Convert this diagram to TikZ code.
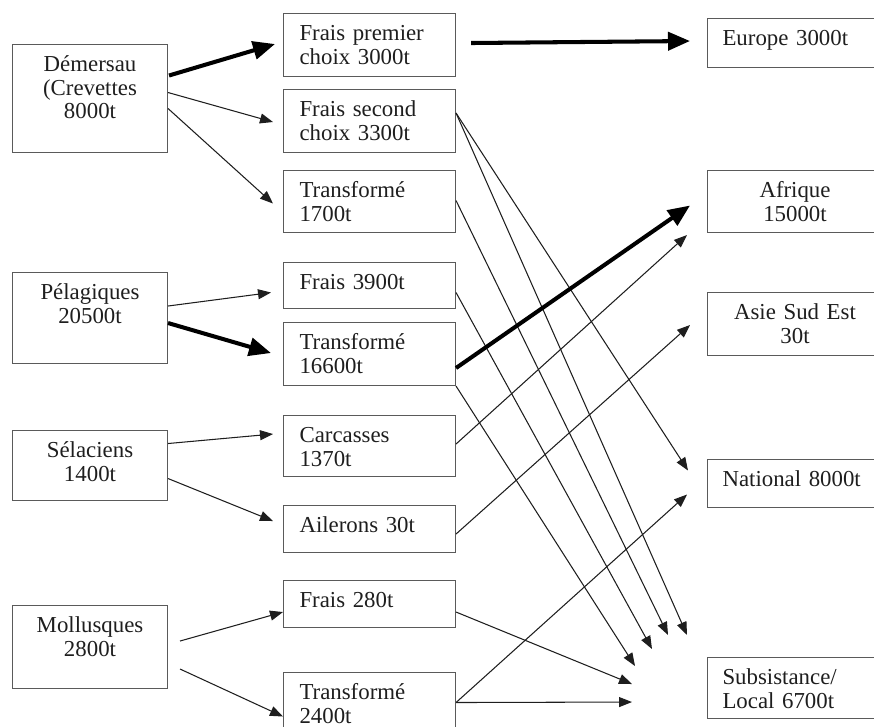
\documentclass[tikz,border=0pt]{standalone}
\usepackage{fontspec}
\setmainfont{Liberation Serif}
\definecolor{scanink}{RGB}{30, 30, 30}
\definecolor{scanline}{RGB}{90, 90, 90}
\usetikzlibrary{arrows.meta, calc}
\newcommand{\flowfont}{\fontsize{13}{13.4}\selectfont}
\tikzset{
    srcbox/.style={rectangle, draw=scanline, line width=0.6pt, anchor=north west,
                   inner xsep=0pt, inner ysep=0pt, text width=3.1cm, align=center,
                   text height=0.54cm, font=\flowfont, text=scanink},
    prodbox/.style={srcbox, inner xsep=0.32cm, text width=2.8cm, align=left},
    destbox/.style={srcbox, inner xsep=0.3cm, text width=2.9cm, align=left},
    flow/.style={-{Triangle[length=2.6mm, width=2mm]}, line width=0.6pt, scanink},
    bigflow/.style={-{Triangle[length=4.4mm, width=3.6mm]}, line width=2.3pt, black},
}
\begin{document}
\begin{tikzpicture}[x=0.02cm, y=-0.02cm]
    \useasboundingbox (0,0) rectangle (874,726);
    % Catches
    \node[srcbox, text depth=1.62cm] (dem) at (12,44) {Démersau\\(Crevettes\\8000t};
    \node[srcbox, text depth=1.28cm] (pel) at (12,272) {Pélagiques\\20500t};
    \node[srcbox, text depth=0.86cm] (sel) at (12,430) {Sélaciens\\1400t};
    \node[srcbox, text depth=1.12cm] (mol) at (12,605) {Mollusques\\2800t};

    % Products
    \node[prodbox, text depth=0.72cm] (fpc) at (283,13) {Frais premier\\choix 3000t};
    \node[prodbox, text depth=0.72cm] (fsc) at (283,89) {Frais second\\choix 3300t};
    \node[prodbox, text depth=0.70cm] (t17) at (283,170) {Transformé\\1700t};
    \node[prodbox, text depth=0.38cm] (f39) at (283,262) {Frais 3900t};
    \node[prodbox, text depth=0.72cm] (t166) at (283,322) {Transformé\\16600t};
    \node[prodbox, text depth=0.68cm] (car) at (283,415) {Carcasses\\1370t};
    \node[prodbox, text depth=0.40cm] (ail) at (283,505) {Ailerons 30t};
    \node[prodbox, text depth=0.40cm] (f28) at (283,580) {Frais 280t};
    \node[prodbox, text depth=0.70cm] (t24) at (283,672) {Transformé\\2400t};

    % Markets
    \node[destbox, text depth=0.44cm] (eur) at (707,18) {Europe 3000t};
    \node[destbox, text depth=0.70cm, align=center] (afr) at (707,170) {Afrique\\15000t};
    \node[destbox, text depth=0.72cm, align=center] (asi) at (707,292) {Asie Sud Est\\30t};
    \node[destbox, text depth=0.42cm] (nat) at (707,459) {National 8000t};
    \node[destbox, text depth=0.68cm] (sub) at (707,657) {Subsistance/\\Local 6700t};

    % Catches to products
    \draw[bigflow] ($(dem.east)+(1,-23)$) -- ($(fpc.west)+(-8,-1)$);
    \draw[flow] ($(dem.east)+(0,-6)$) -- ($(fsc.west)+(-10,1)$);
    \draw[flow] ($(dem.east)+(0,10)$) -- ($(t17.west)+(-10,2)$);
    \draw[flow] ($(pel.east)+(0,-12)$) -- ($(f39.west)+(-12,7)$);
    \draw[bigflow] ($(pel.east)+(0,5)$) -- ($(t166.west)+(-12,-1)$);
    \draw[flow] ($(sel.east)+(0,-22)$) -- ($(car.west)+(-10,-12)$);
    \draw[flow] ($(sel.east)+(0,13)$) -- ($(ail.west)+(-10,-8)$);
    \draw[flow] ($(mol.east)+(12,-6)$) -- ($(f28.west)+(0,8)$);
    \draw[flow] ($(mol.east)+(12,22)$) -- ($(t24.west)+(0,13)$);

    % Products to markets
    \draw[bigflow] ($(fpc.east)+(15,-2)$) -- ($(eur.west)+(-17,-2)$);
    \draw[flow] ($(fsc.east)+(0,-8)$) -- ($(nat.west)+(-19,-13)$);
    \draw[flow] ($(fsc.east)+(0,-8)$) -- ($(sub.north west)+(-20,-22)$);
    \draw[flow] ($(t17.east)+(0,-1)$) -- ($(sub.north west)+(-39,-22)$);
    \draw[flow] ($(f39.east)+(0,7)$) -- ($(sub.north west)+(-55,-8)$);
    \draw[bigflow] ($(t166.east)+(0,14)$) -- ($(afr.west)+(-17,4)$);
    \draw[flow] (t166.south east) -- ($(sub.north west)+(-72,9)$);
    \draw[flow] ($(car.east)+(0,-2)$) -- ($(afr.south west)+(-20,2)$);
    \draw[flow] ($(ail.east)+(0,5)$) -- ($(asi.west)+(-17,1)$);
    \draw[flow] ($(f28.east)+(0,8)$) -- ($(sub.west)+(-75,-4)$);
    \draw[flow] ($(t24.east)+(0,-1)$) -- ($(nat.west)+(-20,11)$);
    \draw[flow] ($(t24.east)+(0,-1)$) -- ($(sub.west)+(-75,14)$);
\end{tikzpicture}
\end{document}
